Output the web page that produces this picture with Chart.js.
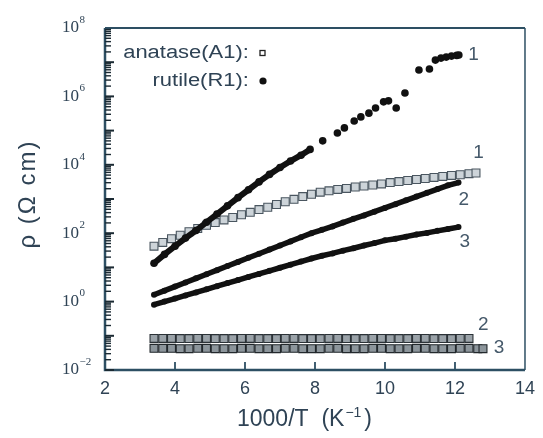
<!DOCTYPE html>
<html><head><meta charset="utf-8">
<script src="https://cdn.jsdelivr.net/npm/chart.js@4/dist/chart.umd.min.js"></script>
<style>html,body{margin:0;padding:0;background:#fff}#wrap{width:543px;height:438px}</style>
</head><body><div id="wrap"><canvas id="c" width="543" height="438"></canvas></div>
<script>
// ---- axis ticks ----
const xTicks = [2, 4, 6, 8, 10, 12, 14];
const yTickExps = [-2, 0, 2, 4, 6, 8];

// ---- rutile (R1) series: 1000/T (K^-1) and rho (ohm cm) ----
const rutile1T = [3.40, 3.70, 4.00, 4.30, 4.60, 4.90, 5.20, 5.50, 5.80, 6.10, 6.40, 6.70, 7.00, 7.30, 7.60, 7.86,
  8.22, 8.64, 8.84, 9.12, 9.31, 9.54, 9.73, 9.96, 10.10, 10.32, 10.57, 10.97, 11.27, 11.44, 11.60, 11.75, 11.90, 12.05, 12.11];
const rutile1Rho = [13.2, 24, 41.7, 72, 120, 209, 363, 631, 1096, 1862, 3162, 5248, 8318, 12880, 19050, 28180,
  50100, 85100, 120000, 190500, 251200, 323600, 457100, 691800, 741300, 457100, 1.26e6, 5.89e6, 6.31e6, 1.15e7, 1.32e7, 1.41e7, 1.51e7, 1.58e7, 1.62e7];
const rutile1DenseCount = 16; // first points drawn as a continuous dense band

const rutile2T = [3.40, 3.70, 4.00, 4.30, 4.60, 4.90, 5.20, 5.50, 5.80, 6.10, 6.40, 6.70, 7.00, 7.30, 7.60, 7.90,
  8.20, 8.50, 8.80, 9.10, 9.40, 9.70, 10.00, 10.30, 10.60, 10.90, 11.20, 11.50, 11.80, 12.10];
const rutile2Rho = [1.58, 2.09, 2.75, 3.63, 4.79, 6.31, 8.32, 11.0, 14.5, 19.1, 25.1, 33.1, 43.7, 57.5, 75.9, 100,
  126, 158, 204, 263, 331, 427, 550, 708, 912, 1175, 1514, 1950, 2512, 3020];

const rutile3T = [3.40, 3.70, 4.00, 4.30, 4.60, 4.90, 5.20, 5.50, 5.80, 6.10, 6.40, 6.70, 7.00, 7.30, 7.60, 7.90,
  8.20, 8.50, 8.80, 9.10, 9.40, 9.70, 10.00, 10.30, 10.60, 10.90, 11.20, 11.50, 11.80, 12.10];
const rutile3Rho = [0.81, 1.0, 1.23, 1.51, 1.86, 2.29, 2.82, 3.47, 4.27, 5.25, 6.46, 7.94, 9.77, 12.0, 14.8, 18.2,
  21.9, 25.7, 30.9, 36.3, 43.7, 51.3, 61.7, 69.2, 79.4, 91.2, 102, 117, 132, 151];

// ---- anatase (A1) series ----
const anatase1T = [3.40, 3.65, 3.90, 4.15, 4.40, 4.65, 4.90, 5.15, 5.40, 5.65, 5.90, 6.15, 6.40, 6.65, 6.90, 7.15, 7.40, 7.65, 7.90,
  8.15, 8.40, 8.65, 8.90, 9.15, 9.40, 9.65, 9.90, 10.15, 10.40, 10.65, 10.90, 11.15, 11.40, 11.65, 11.90, 12.15, 12.40, 12.60];
const anatase1Rho = [41.7, 53.7, 69.2, 87.1, 110, 138, 170, 204, 245, 288, 347, 407, 490, 575, 692, 832, 977, 1175, 1380,
  1585, 1738, 1905, 2042, 2239, 2399, 2570, 2754, 3020, 3236, 3467, 3715, 3981, 4266, 4571, 4898, 5129, 5495, 5754];

const anatase2T = [3.40, 3.65, 3.90, 4.15, 4.40, 4.65, 4.90, 5.15, 5.40, 5.65, 5.90, 6.15, 6.40, 6.65, 6.90, 7.15, 7.40, 7.65, 7.90,
  8.15, 8.40, 8.65, 8.90, 9.15, 9.40, 9.65, 9.90, 10.15, 10.40, 10.65, 10.90, 11.15, 11.40, 11.65, 11.90, 12.15, 12.40];
const anatase2Rho = [0.084, 0.084, 0.084, 0.083, 0.083, 0.084, 0.084, 0.083, 0.083, 0.083, 0.084, 0.084, 0.083, 0.083, 0.083, 0.084, 0.084, 0.083, 0.083,
  0.083, 0.084, 0.084, 0.083, 0.083, 0.083, 0.084, 0.084, 0.083, 0.083, 0.083, 0.084, 0.084, 0.083, 0.083, 0.083, 0.084, 0.084];

const anatase3T = [3.40, 3.65, 3.90, 4.15, 4.40, 4.65, 4.90, 5.15, 5.40, 5.65, 5.90, 6.15, 6.40, 6.65, 6.90, 7.15, 7.40, 7.65, 7.90,
  8.15, 8.40, 8.65, 8.90, 9.15, 9.40, 9.65, 9.90, 10.15, 10.40, 10.65, 10.90, 11.15, 11.40, 11.65, 11.90, 12.15, 12.40, 12.65, 12.80];
const anatase3Rho = [0.043, 0.043, 0.043, 0.042, 0.042, 0.043, 0.043, 0.042, 0.042, 0.042, 0.043, 0.043, 0.042, 0.042, 0.042, 0.043, 0.043, 0.042, 0.042,
  0.042, 0.043, 0.043, 0.042, 0.042, 0.042, 0.043, 0.043, 0.042, 0.042, 0.042, 0.043, 0.043, 0.042, 0.042, 0.042, 0.043, 0.043, 0.042, 0.042];

// ---- curve end labels ----
const curveLabelText = ['1', '1', '2', '3', '2', '3'];
const curveLabelT = [12.53, 12.67, 12.25, 12.28, 12.81, 13.26];
const curveLabelRho = [1.6e7, 2.2e4, 933, 55, 0.21, 0.044];

// ---- texts ----
const xTitle = '1000/T  (K';
const xTitleSup = '−1';
const yTitle = 'ρ (Ω cm)';
const legendLabels = ['anatase(A1): ', 'rutile(R1): '];

const TEXT = '#2f4355';
const AXIS = '#2d4f63';

function pts(t, r) { return t.map((v, i) => ({x: v, y: r[i]})); }

const decor = {
  id: 'decor',
  afterDraw(chart) {
    const {ctx, chartArea: a, scales: {x, y}} = chart;
    ctx.save();
    ctx.strokeStyle = AXIS;
    ctx.lineCap = 'butt';
    // frame
    ctx.lineWidth = 2.5;
    ctx.beginPath(); ctx.moveTo(a.left, a.top); ctx.lineTo(a.left, a.bottom); ctx.lineTo(a.right, a.bottom); ctx.stroke();
    ctx.lineWidth = 2.2;
    ctx.beginPath(); ctx.moveTo(a.left, a.top); ctx.lineTo(a.right, a.top); ctx.stroke();
    ctx.lineWidth = 1.5;
    ctx.beginPath(); ctx.moveTo(a.right, a.top); ctx.lineTo(a.right, a.bottom); ctx.stroke();
    // x ticks (inside)
    ctx.lineWidth = 1.8;
    xTicks.forEach(v => {
      if (v === x.min || v === x.max) return;
      const px = x.getPixelForValue(v);
      ctx.beginPath(); ctx.moveTo(px, a.bottom); ctx.lineTo(px, a.bottom - 8); ctx.stroke();
    });
    // y ticks (inside, log minor ticks)
    ctx.strokeStyle = '#1b2a33';
    for (let e = -2; e < 8; e++) {
      for (let m = 1; m <= 9; m++) {
        const v = m * Math.pow(10, e);
        const py = y.getPixelForValue(v);
        ctx.lineWidth = m === 1 ? 2 : 1.4;
        const len = m === 1 ? 9 : 6;
        ctx.beginPath(); ctx.moveTo(a.left, py); ctx.lineTo(a.left + len, py); ctx.stroke();
      }
    }
    // y tick labels 10^n
    ctx.fillStyle = TEXT;
    yTickExps.forEach(e => {
      const py = y.getPixelForValue(Math.pow(10, e));
      ctx.font = "17px 'Liberation Serif'";
      ctx.textAlign = 'left'; ctx.textBaseline = 'middle';
      ctx.fillText('10', 62, py);
      const w = ctx.measureText('10').width;
      ctx.font = "11px 'Liberation Serif'";
      ctx.fillText(e < 0 ? '−' + (-e) : String(e), 62 + w + 0.5, py - 8);
    });
    // y title
    ctx.save();
    ctx.translate(28, 194);
    ctx.rotate(-Math.PI / 2);
    ctx.font = "24px 'Liberation Sans'";
    ctx.letterSpacing = '2px';
    ctx.textAlign = 'center'; ctx.textBaseline = 'middle';
    ctx.fillText(yTitle, 0, 0);
    ctx.restore();
    // x title
    ctx.font = "23px 'Liberation Sans'";
    ctx.textAlign = 'left'; ctx.textBaseline = 'middle';
    ctx.fillText(xTitle, 237, 420);
    let xw = ctx.measureText(xTitle).width;
    ctx.font = "14px 'Liberation Sans'";
    ctx.fillText(xTitleSup, 237 + xw + 1, 413);
    const sw = ctx.measureText(xTitleSup).width;
    ctx.font = "23px 'Liberation Sans'";
    ctx.fillText(')', 237 + xw + sw + 4, 420);
    // legend
    ctx.font = "18px 'Liberation Sans'";
    ctx.textBaseline = 'middle';
    ctx.textAlign = 'right';
    [[legendLabels[0], 53], [legendLabels[1], 81]].forEach(([t, yy]) => {
      ctx.save();
      ctx.translate(255, yy);
      ctx.scale(1.22, 1);
      ctx.fillText(t, 0, 0);
      ctx.restore();
    });
    ctx.strokeStyle = '#222'; ctx.lineWidth = 1.3;
    ctx.strokeRect(260, 50.5, 5, 5);
    ctx.fillStyle = '#111';
    ctx.beginPath(); ctx.arc(263, 81, 3.6, 0, Math.PI * 2); ctx.fill();
    // curve labels
    ctx.fillStyle = '#45596a';
    ctx.font = "19px 'Liberation Sans'";
    ctx.textAlign = 'center'; ctx.textBaseline = 'middle';
    curveLabelText.forEach((t, i) => {
      ctx.fillText(t, x.getPixelForValue(curveLabelT[i]), y.getPixelForValue(curveLabelRho[i]));
    });
    ctx.restore();
  }
};

new Chart(document.getElementById('c'), {
  type: 'scatter',
  data: {
    datasets: [
      {label: 'rutile(R1) 1', data: pts(rutile1T, rutile1Rho), showLine: true, borderColor: '#111', backgroundColor: '#111',
        borderWidth: 6, pointRadius: 3.8, pointBorderWidth: 0, pointStyle: 'circle',
        segment: {borderColor: c => (c.p0DataIndex >= rutile1DenseCount - 1 ? 'rgba(0,0,0,0)' : undefined)}},
      {label: 'rutile(R1) 2', data: pts(rutile2T, rutile2Rho), showLine: true, borderColor: '#111', backgroundColor: '#111',
        borderWidth: 5.5, pointRadius: 3, pointBorderWidth: 0},
      {label: 'rutile(R1) 3', data: pts(rutile3T, rutile3Rho), showLine: true, borderColor: '#111', backgroundColor: '#111',
        borderWidth: 5.5, pointRadius: 3, pointBorderWidth: 0},
      {label: 'anatase(A1) 1', data: pts(anatase1T, anatase1Rho), pointStyle: 'rect', pointRadius: 5.6,
        borderColor: '#4a5660', backgroundColor: '#cdd4d9', pointBorderWidth: 1.1},
      {label: 'anatase(A1) 2', data: pts(anatase2T, anatase2Rho), pointStyle: 'rect', pointRadius: 5.6,
        borderColor: '#2b3237', backgroundColor: '#9aa2a8', pointBorderWidth: 1.1},
      {label: 'anatase(A1) 3', data: pts(anatase3T, anatase3Rho), pointStyle: 'rect', pointRadius: 5.6,
        borderColor: '#22282c', backgroundColor: '#8c959b', pointBorderWidth: 1.1}
    ]
  },
  options: {
    responsive: false,
    animation: false,
    devicePixelRatio: 1,
    layout: {padding: {top: 28, right: 8, left: 0, bottom: 0}},
    plugins: {legend: {display: false}, tooltip: {enabled: false}},
    scales: {
      x: {
        type: 'linear', position: 'bottom', min: 2, max: 14,
        afterBuildTicks: s => { s.ticks = xTicks.map(v => ({value: v})); },
        ticks: {font: {family: 'Liberation Sans', size: 18}, color: TEXT, padding: 8, maxRotation: 0},
        grid: {display: true, drawOnChartArea: false, drawTicks: false, color: 'rgba(0,0,0,0)'},
        border: {display: false},
        afterFit: s => { s.height = 68; }
      },
      y: {
        type: 'logarithmic', min: 0.01, max: 1e8,
        ticks: {display: false},
        grid: {display: false},
        border: {display: false},
        afterFit: s => { s.width = 105; }
      }
    }
  },
  plugins: [decor]
});
</script>
</body></html>
